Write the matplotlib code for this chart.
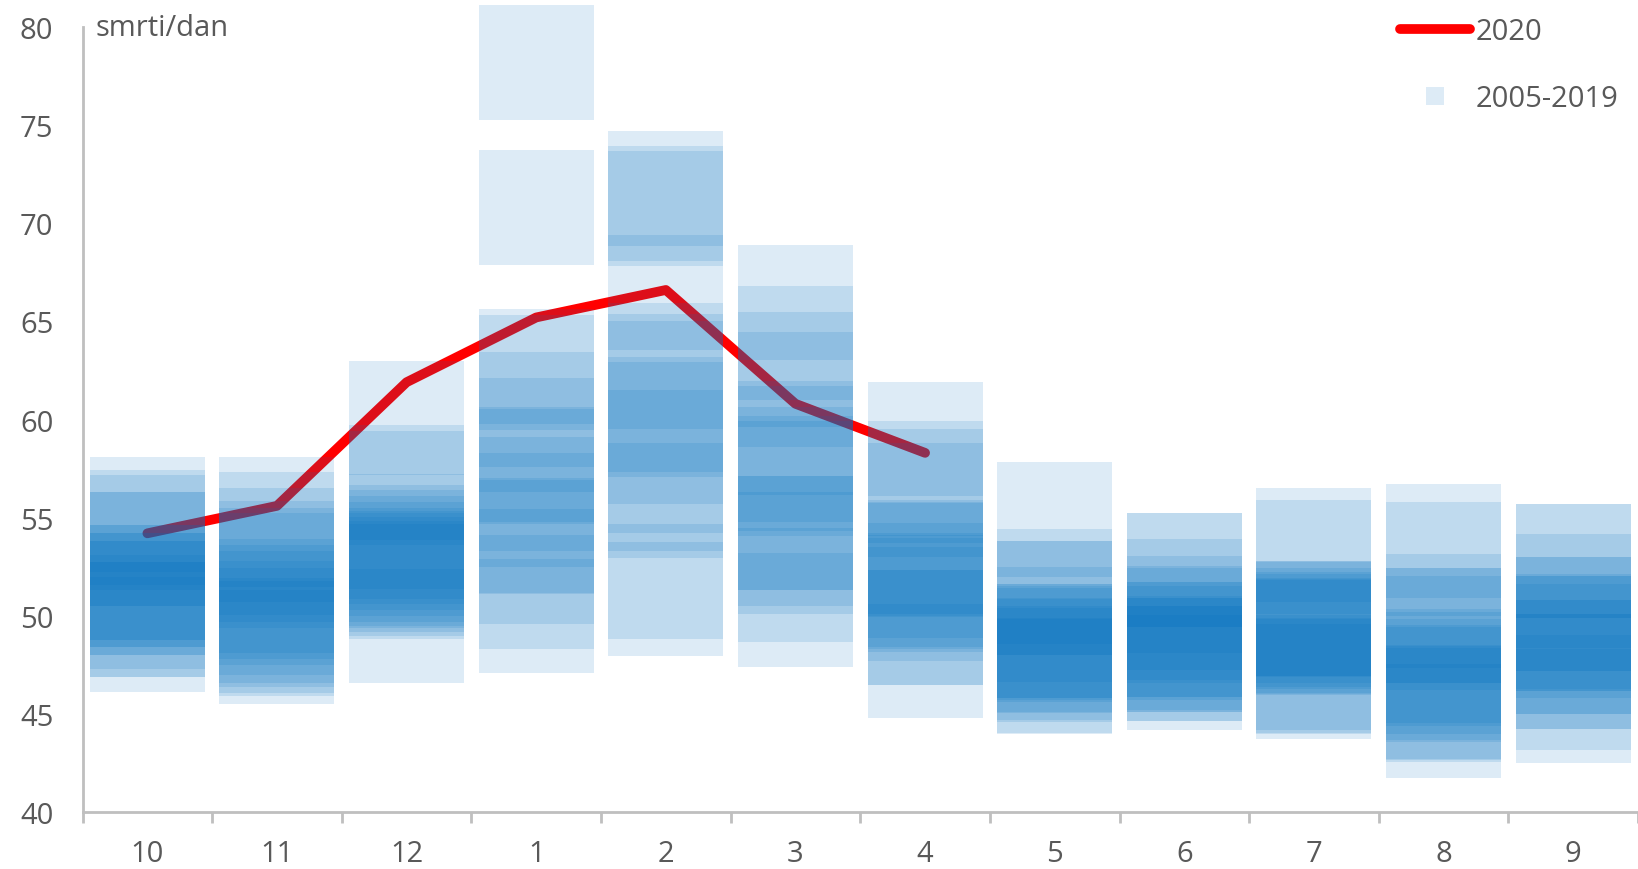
import numpy as np
import matplotlib
matplotlib.use("Agg")
from matplotlib import pyplot as plt
from matplotlib.lines import Line2D

# month labels (Oct 2019 .. Sep 2020)
months = ['10', '11', '12', '1', '2', '3', '4', '5', '6', '7', '8', '9']

# 2020 daily deaths, Oct..Apr
deaths_2020 = [54.2, 55.6, 61.9, 65.2, 66.6, 60.8, 58.3]

# 2005-2019 monthly values, one list per month
oct_years = [55.15, 54.5, 54.25, 53.4, 53.4, 51.7, 51.7, 51.3, 51.3, 50.9, 50.9, 50.2, 49.8, 49.8, 49.05]
nov_years = [55.15, 54.4, 53.6, 52.95, 52.6, 52.3, 51.0, 50.7, 50.4, 49.9, 49.5, 49.3, 49.0, 48.85, 48.4]
dec_years = [60.07, 56.8, 56.5, 54.3, 53.75, 53.5, 53.2, 52.9, 52.6, 52.4, 52.3, 52.1, 51.9, 51.75, 49.47]
jan_years = [78.2, 70.8, 62.7, 62.4, 60.5, 59.2, 57.7, 57.6, 56.2, 55.4, 54.1, 54.0, 52.5, 51.2, 50.0]
feb_years = [71.77, 71.0, 70.75, 66.47, 63.0, 62.45, 62.08, 60.25, 60.0, 58.6, 57.14, 56.24, 55.88, 51.75, 50.85]
mar_years = [65.97, 63.9, 62.54, 61.53, 59.07, 58.8, 57.7, 57.24, 57.0, 54.23, 54.23, 53.4, 53.0, 51.57, 50.3]
apr_years = [59.0, 57.0, 56.6, 55.9, 53.0, 52.9, 52.85, 51.8, 51.3, 51.2, 51.05, 50.6, 49.4, 49.4, 47.7]
may_years = [54.9, 51.5, 50.9, 50.9, 49.55, 48.7, 48.7, 48.6, 48.5, 48.0, 47.94, 47.6, 47.5, 46.95, 46.9]
jun_years = [52.33, 52.33, 51.0, 50.15, 49.64, 49.5, 48.8, 48.8, 48.6, 48.1, 48.0, 48.0, 47.57, 47.57, 47.1]
jul_years = [53.6, 53.0, 49.85, 49.85, 49.8, 49.5, 49.3, 49.2, 49.0, 48.95, 48.9, 47.1, 46.95, 46.9, 46.65]
aug_years = [53.8, 52.9, 50.24, 49.5, 49.5, 49.13, 47.43, 47.3, 46.9, 46.6, 46.5, 45.6, 45.55, 45.45, 44.65]
sep_years = [52.8, 52.8, 51.25, 50.1, 50.1, 49.2, 49.1, 49.1, 48.7, 47.9, 47.9, 47.15, 47.15, 46.1, 45.4]

yearly = [oct_years, nov_years, dec_years, jan_years, feb_years, mar_years,
          apr_years, may_years, jun_years, jul_years, aug_years, sep_years]

grey = '#595959'
axis_grey = '#bfbfbf'
blue = '#0070C0'
alpha = 0.135
span = 5.83      # height of the square markers in data units
bar_w = 0.887
fs = 21

plt.rcParams['font.family'] = ['Open Sans', 'DejaVu Sans']

# set up figure
fig = plt.figure(figsize=(16.38, 8.7), dpi=100)
ax = fig.add_axes([0.0504, 0.0655, 0.9496, 0.9294])

x = np.arange(len(months))

# 2020 line goes under the translucent squares
ax.plot(x[:len(deaths_2020)], deaths_2020, color='#ff0000', lw=7,
        solid_capstyle='round', solid_joinstyle='round', zorder=1)

for i, vals in enumerate(yearly):  # one translucent square per year
    vals = np.array(vals)
    ax.bar(np.full(len(vals), x[i]), span, bottom=vals - span / 2, width=bar_w,
           color=blue, alpha=alpha, linewidth=0, zorder=2)

# format axes
ax.set_xlim(-0.5, len(months) - 0.5)
ax.set_ylim(40, 81.2)
ax.set_yticks(range(40, 81, 5))
ax.tick_params(axis='y', length=0, pad=21, labelsize=fs, labelcolor=grey)

ax.set_xticks(np.arange(-0.5, len(months), 1))
ax.set_xticklabels([])
ax.set_xticks(x, minor=True)
ax.set_xticklabels(months, minor=True)
ax.tick_params(axis='x', which='major', length=8, width=2, color=axis_grey)
ax.tick_params(axis='x', which='minor', length=0, pad=19.5, labelsize=fs, labelcolor=grey)

for s in ['top', 'right']:
    ax.spines[s].set_visible(False)
for s in ['left', 'bottom']:
    ax.spines[s].set_color(axis_grey)
    ax.spines[s].set_linewidth(2)
ax.spines['left'].set_bounds(40, 80)

fig.text(0.0586, 0.967, 'smrti/dan', fontsize=fs, color=grey, va='center')

handles = [Line2D([], [], color='#ff0000', lw=7, solid_capstyle='round'),
           Line2D([], [], color=blue, alpha=alpha, marker='s', markersize=13,
                  linestyle='none', markeredgewidth=0)]
leg = ax.legend(handles, ['2020', '2005-2019'], loc='upper right',
                bbox_to_anchor=(1.004, 1.009), bbox_transform=fig.transFigure,
                frameon=False, fontsize=fs, handlelength=2.4, handletextpad=0.2,
                labelspacing=1.3)
for t in leg.get_texts():
    t.set_color(grey)

fig.savefig('out.png', dpi=100)
